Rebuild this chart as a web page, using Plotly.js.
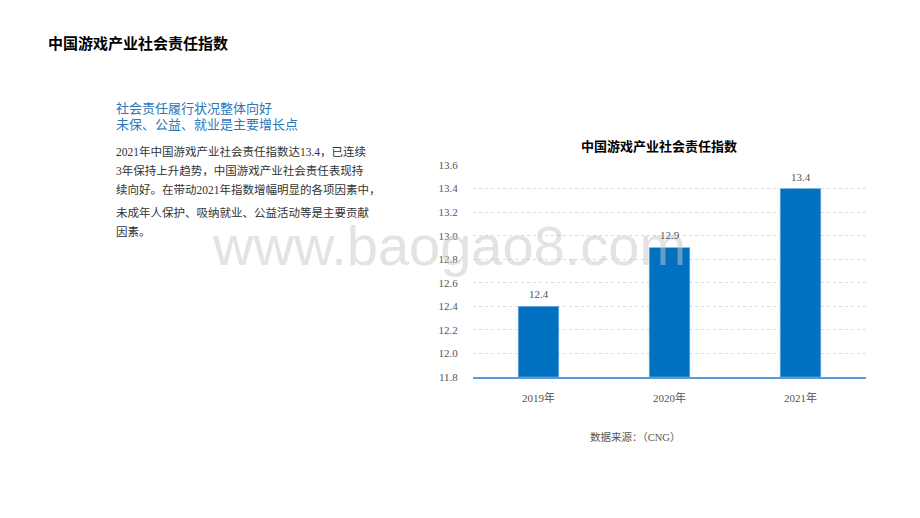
<!DOCTYPE html>
<html><head><meta charset="utf-8">
<script src="https://cdn.plot.ly/plotly-3.0.1.min.js"></script>
<style>html,body{margin:0;padding:0;background:#fff;}#chart{width:920px;height:518px;}</style>
</head><body><div id="chart"></div>
<script>
const categories = ['2019年', '2020年', '2021年'];
const indexValues = [12.4, 12.9, 13.4];
const valueLabels = ['12.4', '12.9', '13.4'];
const tickValues = [11.8, 12.0, 12.2, 12.4, 12.6, 12.8, 13.0, 13.2, 13.4, 13.6];
const tickLabels = ['11.8', '12.0', '12.2', '12.4', '12.6', '12.8', '13.0', '13.2', '13.4', '13.6'];
const pageTitle = '中国游戏产业社会责任指数';
const chartTitle = '中国游戏产业社会责任指数';
const subtitleLines = ['社会责任履行状况整体向好', '未保、公益、就业是主要增长点'];
const bodyLines = [
  '2021年中国游戏产业社会责任指数达13.4，已连续',
  '3年保持上升趋势，中国游戏产业社会责任表现持',
  '续向好。在带动2021年指数增幅明显的各项因素中，',
  '未成年人保护、吸纳就业、公益活动等是主要贡献',
  '因素。'
];
const sourceText = '数据来源：（CNG）';
const watermark = 'www.baogao8.com';
const baseValue = 11.8;

const W = 920, H = 518;
const px = x => x / W, py = y => 1 - y / H;
const serif = 'Liberation Serif, Noto Sans CJK SC, serif';
const sans = 'Noto Sans CJK SC, sans-serif';

const annotations = [];
annotations.push({xref:'paper', yref:'paper', x:px(449), y:py(246), text:watermark, showarrow:false,
  xanchor:'center', yanchor:'middle', font:{family:'Liberation Sans, Arial, sans-serif', size:56, color:'rgba(200,200,200,0.5)'}});
annotations.push({xref:'paper', yref:'paper', x:px(46), y:py(42), text:'<b>'+pageTitle+'</b>', showarrow:false,
  xanchor:'left', yanchor:'middle', font:{family:sans, size:15, color:'#000'}});
annotations.push({xref:'paper', yref:'paper', x:px(659), y:py(145), text:'<b>'+chartTitle+'</b>', showarrow:false,
  xanchor:'center', yanchor:'middle', font:{family:sans, size:13, color:'#000'}});
const subY = [107, 124];
subtitleLines.forEach((t,i)=>annotations.push({xref:'paper', yref:'paper', x:px(114), y:py(subY[i]), text:t, showarrow:false,
  xanchor:'left', yanchor:'middle', font:{family:sans, size:13, color:'#2E75B6'}}));
const bodyY = [151, 170, 190, 212, 232];
bodyLines.forEach((t,i)=>annotations.push({xref:'paper', yref:'paper', x:px(114), y:py(bodyY[i]), text:t, showarrow:false,
  xanchor:'left', yanchor:'middle', font:{family:serif, size:11.5, color:'#333'}}));
annotations.push({xref:'paper', yref:'paper', x:px(635), y:py(437), text:sourceText, showarrow:false,
  xanchor:'center', yanchor:'middle', font:{family:serif, size:10.5, color:'#555'}});
categories.forEach((c,i)=>annotations.push({xref:'x', yref:'y', x:c, y:indexValues[i], text:valueLabels[i],
  showarrow:false, xanchor:'center', yanchor:'bottom', yshift:4, font:{family:serif, size:11, color:'#555'}}));

const trace = {
  type:'bar', x:categories, y:indexValues.map(v => +(v - baseValue).toFixed(2)), base:baseValue,
  marker:{color:'#0070C0', line:{color:'#9dc3e6', width:0.5}},
  hoverinfo:'none'
};

const layout = {
  width:W, height:H, margin:{l:0, r:0, t:0, b:0},
  paper_bgcolor:'#fff', plot_bgcolor:'rgba(0,0,0,0)',
  showlegend:false, bargap:0.69,
  xaxis:{domain:[px(473), px(866)], type:'category', showgrid:false, zeroline:false,
    showline:true, linecolor:'#5B9BD5', linewidth:1.5,
    ticks:'outside', ticklen:10, tickcolor:'rgba(0,0,0,0)',
    tickfont:{family:serif, size:11, color:'#555'}, fixedrange:true},
  yaxis:{domain:[py(377), py(165)], range:[11.8, 13.6], tickmode:'array',
    tickvals:tickValues, ticktext:tickLabels,
    showgrid:true, gridcolor:'#dcdcdc', griddash:'dot', gridwidth:1, zeroline:false, showline:false,
    ticks:'outside', ticklen:12, tickcolor:'rgba(0,0,0,0)',
    tickfont:{family:serif, size:11, color:'#555'}, fixedrange:true},
  annotations:annotations
};
Plotly.newPlot('chart', [trace], layout, {staticPlot:true, displayModeBar:false});
</script></body></html>
